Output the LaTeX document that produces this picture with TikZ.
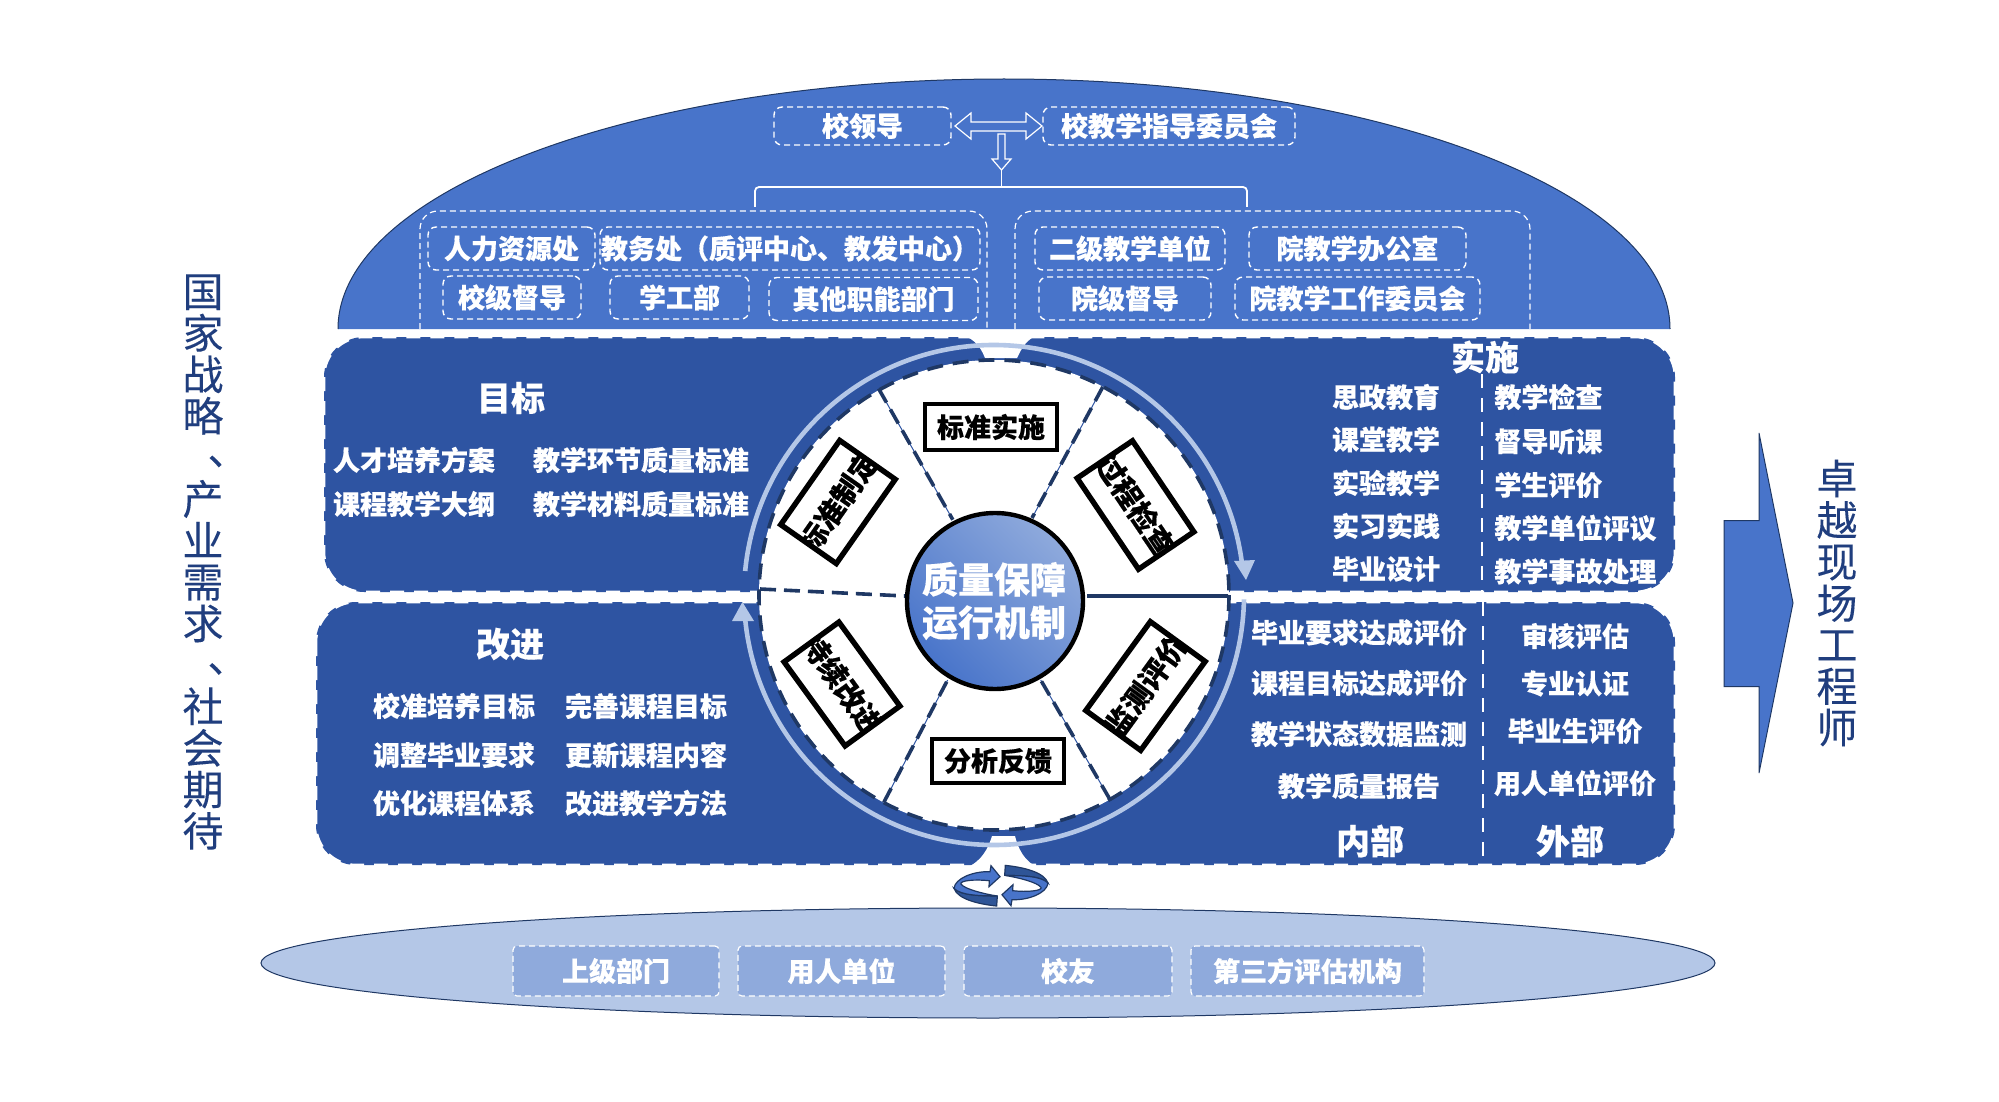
\documentclass[tikz,border=0pt]{standalone}
\usepackage{fontspec}
\setmainfont{Noto Sans CJK SC}[BoldFeatures={FakeBold=0.3}]
\newfontfamily\sidefont{Noto Sans CJK SC}[FakeBold=0.15]
\usetikzlibrary{calc}
\definecolor{domeblue}{HTML}{4874CA}
\definecolor{bandblue}{HTML}{2E54A2}
\definecolor{navy}{HTML}{1F3864}
\definecolor{lightarc}{HTML}{B4C7E7}
\definecolor{midblue}{HTML}{8FAADC}
\definecolor{sideblue}{HTML}{2F5597}
\definecolor{sidetext}{HTML}{203E7E}
\tikzset{
  x=0.5pt,y=-0.5pt,
  txt/.style={text=white,inner sep=0pt,font=\fontsize{13.5}{15}\selectfont\bfseries},
  big/.style={text=white,inner sep=0pt,font=\fontsize{17}{19}\selectfont\bfseries},
  dbox/.style={draw=white,densely dashed,line width=0.7pt,rounded corners=4pt,inner sep=0pt,text=white,font=\fontsize{13.5}{15}\selectfont\bfseries},
  lowbox/.style={draw=white,densely dashed,line width=0.6pt,rounded corners=2pt,fill=midblue,inner sep=0pt,text=white,font=\fontsize{13.5}{15}\selectfont\bfseries},
  bandline/.style={draw=white,line width=1.3pt,dash pattern=on 7pt off 5pt},
  ringdash/.style={draw=navy,line width=1.8pt,dash pattern=on 8pt off 5pt},
  spokethin/.style={draw=bandblue,line width=0.5pt},
  spokedash/.style={draw=navy,line width=1.8pt,dash pattern=on 8pt off 4pt},
  sidetxt/.style={text=sidetext,inner sep=0pt,align=center,font=\fontsize{20.5}{20.75}\sidefont\selectfont},
  wheelbox/.style={draw=black,line width=1.8pt,fill=white,inner sep=0pt,text=black,font=\fontsize{13.5}{15}\selectfont\bfseries},
  rottxt/.style={inner sep=0pt,text=black,font=\fontsize{14.5}{15}\selectfont\bfseries},
  hollow/.style={draw=white,line width=0.6pt,fill=domeblue},
  arcline/.style={draw=lightarc,line width=2.3pt},
  swirlface/.style={draw=navy,line width=0.6pt,fill=domeblue},
  swirlside/.style={draw=navy,line width=0.6pt,fill=sideblue},
}
\newcommand{\dunhao}{\makebox[20.5pt][l]{\hspace*{12.5pt}\raisebox{4pt}{、}}}
\newcommand{\rotbox}[7]{%
  \node[draw=black,line width=1.8pt,fill=white,rotate=#4,minimum width=#5*0.5pt,minimum height=#6*0.5pt,inner sep=0pt] (#1) at (#2,#3) {};
  \begin{scope}
    \clip (#1.north west)--(#1.north east)--(#1.south east)--(#1.south west)--cycle;
    \node[rottxt,rotate=#4] (#1t) at (#1.center) {#7};
  \end{scope}
  \draw[black,line width=1.8pt] (#1.north west)--(#1.north east)--(#1.south east)--(#1.south west)--cycle;
}
\newcommand{\swirl}[1]{%
  \begin{scope}[shift={(1001,885.7)},rotate=#1,x=0.1667pt,y=-0.1667pt]
    \path[swirlside] (-141,8) .. controls (-120,30) and (-60,30) .. (-11,31) -- (-13,61) .. controls (-70,55) and (-130,40) .. (-141,8) -- cycle;
    \path[swirlface] (-141,8) .. controls (-138,-22) and (-83,-44) .. (-33,-42) -- (-30,-60) -- (-3,-27) -- (-36,3) -- (-35,-15) .. controls (-80,-20) and (-125,-15) .. (-120,-5) .. controls (-110,10) and (-50,25) .. (-11,31) .. controls (-60,30) and (-120,30) .. (-141,8) -- cycle;
  \end{scope}
}
\begin{document}
\begin{tikzpicture}
\useasboundingbox (0,0) rectangle (1999,1102);
% dome
\fill[domeblue] (338,329) arc[start angle=180,end angle=360,x radius=666,y radius=250] -- cycle;
\draw[navy,line width=0.5pt] (338,329) arc[start angle=180,end angle=360,x radius=666,y radius=250];
% top boxes
\node[dbox,minimum width=88.5pt,minimum height=19pt] (lead) at (862.5,126) {校领导};
\node[dbox,minimum width=126pt,minimum height=19pt] (comm) at (1169,126) {校教学指导委员会};
% hollow arrows
\path[hollow] (955,126)--(971,113)--(971,122)--(1026,122)--(1026,113)--(1042,126)--(1026,139)--(1026,131)--(971,131)--(971,139)--cycle;
\path[hollow] (998,134)--(1005,134)--(1005,159)--(1011,159)--(1001.5,170)--(992,159)--(998,159)--cycle;
% bracket
\coordinate (stemtop) at (1001.5,170);
\coordinate (stemmid) at (1001.5,187);
\coordinate (brl) at (755,207);
\coordinate (brr) at (1247,207);
\draw[white,line width=0.9pt] (stemtop)--(stemmid);
\draw[white,line width=0.9pt,rounded corners=2pt] (brl)|-(stemmid)-|(brr);
% groups
\draw[white,densely dashed,line width=0.6pt,rounded corners=9pt] (420,329)--(420,211)--(987,211)--(987,329);
\draw[white,densely dashed,line width=0.6pt,rounded corners=9pt] (1015,329)--(1015,211)--(1530,211)--(1530,329);
\node[dbox,minimum width=83.5pt,minimum height=21.5pt] (a1) at (511.5,248.5) {人力资源处};
\node[dbox,minimum width=190pt,minimum height=21.5pt] (a2) at (790,248.5) {教务处（质评中心、教发中心）};
\node[dbox,minimum width=69pt,minimum height=21.5pt] (a3) at (512,297.5) {校级督导};
\node[dbox,minimum width=69.5pt,minimum height=21.5pt] (a4) at (679.5,297.5) {学工部};
\node[dbox,minimum width=104.5pt,minimum height=21.5pt] (a5) at (873.5,299) {其他职能部门};
\node[dbox,minimum width=95pt,minimum height=21.5pt] (b1) at (1130,248.5) {二级教学单位};
\node[dbox,minimum width=108.5pt,minimum height=21.5pt] (b2) at (1357.5,248.5) {院教学办公室};
\node[dbox,minimum width=86pt,minimum height=21.5pt] (b3) at (1125,298.5) {院级督导};
\node[dbox,minimum width=122.5pt,minimum height=21.5pt] (b4) at (1357.5,298.5) {院教学工作委员会};
% bands
\path[fill=bandblue,bandline,rounded corners=20pt] (324,337) rectangle (1675,592);
\path[fill=bandblue,bandline,rounded corners=20pt] (316,602) rectangle (1675,865);
% notches
\fill[white] (956,334) .. controls (972,336) and (980,345) .. (985,358) -- (1017,358) .. controls (1022,348) and (1026,339) .. (1040,334) -- cycle;
\fill[white] (960,870) .. controls (975,866) and (986,856) .. (992,836) -- (1015,836) .. controls (1020,856) and (1030,866) .. (1045,870) -- cycle;
\fill[white] (730,593.5) rectangle (1260,600.5);
% light arcs
\draw[arcline] (994,595) ++(185.5:250) arc[start angle=185.5,end angle=352.3,radius=250];
\draw[arcline] (994,595) ++(1:250) arc[start angle=1,end angle=174.1,radius=250];
\fill[lightarc] (1234,561)--(1255,560)--(1246,580)--cycle;
\fill[lightarc] (742.4,602)--(732,621)--(754,621)--cycle;
% wheel
\fill[white] (994,595) circle[radius=235];
\draw[ringdash] (994,595) circle[radius=235];
% spokes
\coordinate (s1a) at (878.6,388.6); \coordinate (s1b) at (952.8,519.7);
\coordinate (s2a) at (1102.8,386.9); \coordinate (s2b) at (1032,518);
\coordinate (s3a) at (883.8,802.4); \coordinate (s3b) at (947.6,680);
\coordinate (s4a) at (1109.7,799); \coordinate (s4b) at (1040.7,680);
\coordinate (s5a) at (760,589); \coordinate (s5b) at (905,596);
\coordinate (s6a) at (1228,596); \coordinate (s6b) at (1087,596);
\foreach \p/\q in {s1a/s1b,s2a/s2b,s3a/s3b,s4a/s4b}{
  \draw[spokethin] (\p)--(\q);
  \draw[spokedash] (\p)--(\q);
}
\draw[spokedash] (s5a)--(s5b);
\draw[navy,line width=1.6pt] (s6a)--(s6b);
% centre
\shade[left color=midblue,right color=domeblue,shading angle=-45] (995,601) circle[radius=89];
\node[draw=black,line width=2.2pt,circle,minimum size=88pt,inner sep=0pt] (hub) at (995,601) {};
\node[text=white,inner sep=0pt,align=center,font=\fontsize{18}{21.5}\selectfont\bfseries] (hubt) at (994,601) {质量保障\\运行机制};
% wheel labels
\node[wheelbox,minimum width=66pt,minimum height=23pt] (w1) at (991,427) {标准实施};
\node[wheelbox,minimum width=66pt,minimum height=22pt] (w2) at (998,761) {分析反馈};
\rotbox{w3}{838}{502}{55}{101}{66}{标准制定}
\rotbox{w4}{1135.5}{505}{-56}{108}{65}{过程检查}
\rotbox{w5}{1145.5}{686}{54}{108}{66}{监测评价}
\rotbox{w6}{842}{684}{-54}{102}{66}{持续改进}
% upper left
\node[big] (t1) at (511,398) {目标};
\node[txt] (t2) at (414,460) {人才培养方案};
\node[txt] (t3) at (641,460) {教学环节质量标准};
\node[txt] (t4) at (414,504) {课程教学大纲};
\node[txt] (t5) at (641,504) {教学材料质量标准};
% upper right
\node[big] (t6) at (1485,357) {实施};
\coordinate (d1) at (1482,374); \coordinate (d2) at (1482,591);
\draw[white,line width=1pt,dash pattern=on 7pt off 5pt] (d1)--(d2);
\node[txt] (t7) at (1386,397) {思政教育};
\node[txt] (t8) at (1386,439.5) {课堂教学};
\node[txt] (t9) at (1386,483) {实验教学};
\node[txt] (t10) at (1386,526) {实习实践};
\node[txt] (t11) at (1386,569) {毕业设计};
\node[txt,anchor=west] (t12) at (1494,397) {教学检查};
\node[txt,anchor=west] (t13) at (1494,441.5) {督导听课};
\node[txt,anchor=west] (t14) at (1494,485) {学生评价};
\node[txt,anchor=west] (t15) at (1494,528) {教学单位评议};
\node[txt,anchor=west] (t16) at (1494,571.5) {教学事故处理};
% lower right
\coordinate (d3) at (1483,602); \coordinate (d4) at (1483,865);
\draw[white,line width=1pt,dash pattern=on 7pt off 5pt] (d3)--(d4);
\node[txt] (u1) at (1359,632.5) {毕业要求达成评价};
\node[txt] (u2) at (1359,683) {课程目标达成评价};
\node[txt] (u3) at (1359,734) {教学状态数据监测};
\node[txt] (u4) at (1359,786) {教学质量报告};
\node[big] (u5) at (1370,841) {内部};
\node[txt] (u6) at (1575,636) {审核评估};
\node[txt] (u7) at (1575,683.5) {专业认证};
\node[txt] (u8) at (1575,731) {毕业生评价};
\node[txt] (u9) at (1575,783) {用人单位评价};
\node[big] (u10) at (1570,841) {外部};
% lower left
\node[big] (v1) at (510,644) {改进};
\node[txt] (v2) at (454,706) {校准培养目标};
\node[txt] (v3) at (646,706) {完善课程目标};
\node[txt] (v4) at (454,755) {调整毕业要求};
\node[txt] (v5) at (646,755) {更新课程内容};
\node[txt] (v6) at (454,803) {优化课程体系};
\node[txt] (v7) at (646,803) {改进教学方法};
% bottom ellipse
\draw[navy,line width=0.5pt,fill=lightarc] (988,963) ellipse[x radius=727,y radius=55];
\node[lowbox,minimum width=103pt,minimum height=25pt] (e1) at (616,971) {上级部门};
\node[lowbox,minimum width=103.5pt,minimum height=25pt] (e2) at (841.5,971) {用人单位};
\node[lowbox,minimum width=104pt,minimum height=25pt] (e3) at (1068,971) {校友};
\node[lowbox,minimum width=116.5pt,minimum height=25pt] (e4) at (1307.5,971) {第三方评估机构};
% swirl
\swirl{0}
\swirl{180}
% side texts
\node[sidetxt] (left) at (203,562) {国\\家\\战\\略\\\dunhao\\产\\业\\需\\求\\\dunhao\\社\\会\\期\\待};
\node[sidetxt] (right) at (1837,603) {卓\\越\\现\\场\\工\\程\\师};
% right arrow
\path[fill=domeblue,draw=navy,line width=0.5pt] (1724,520.5)--(1759,520.5)--(1759,433)--(1793,603)--(1759,773)--(1759,686.5)--(1724,686.5)--cycle;
\end{tikzpicture}
\end{document}
